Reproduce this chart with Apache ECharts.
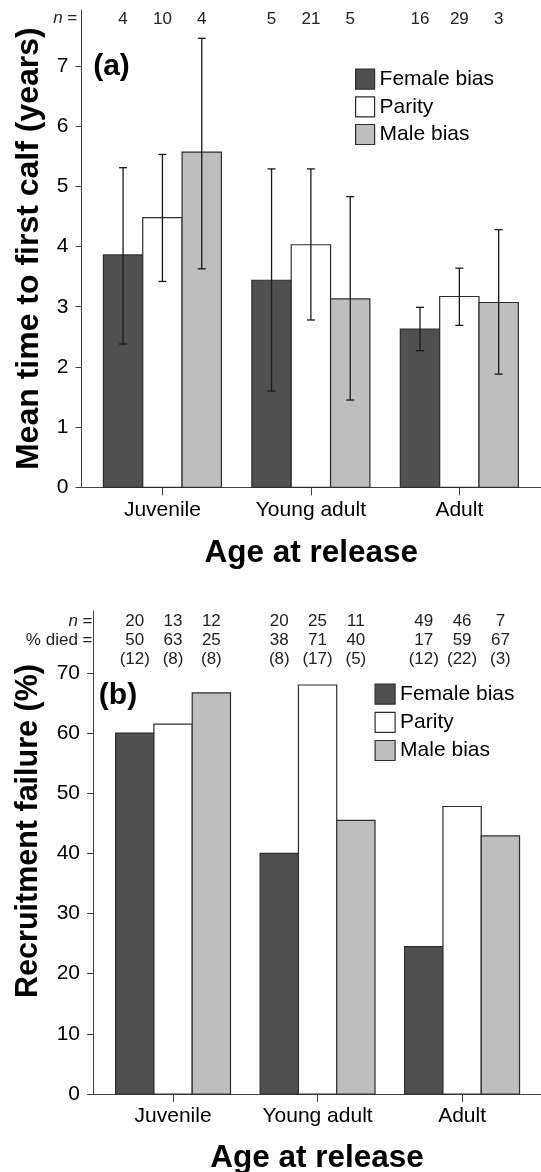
<!DOCTYPE html>
<html><head><meta charset="utf-8">
<script src="https://cdn.jsdelivr.net/npm/echarts@6/dist/echarts.min.js"></script>
<style>html,body{margin:0;padding:0;background:#fff}#c{width:541px;height:1172px}</style>
</head><body><div id="c"></div>
<script>
// ---------- data ----------
const categories = ['Juvenile', 'Young adult', 'Adult'];
const groups = ['Female bias', 'Parity', 'Male bias'];
// panel (a): mean time to first calf (years) with error bars
const meanFemale = [3.86, 3.44, 2.63];
const meanParity = [4.48, 4.03, 3.17];
const meanMale   = [5.57, 3.13, 3.07];
const lowFemale  = [2.38, 1.60, 2.27];
const lowParity  = [3.42, 2.78, 2.69];
const lowMale    = [3.63, 1.45, 1.88];
const highFemale = [5.31, 5.29, 2.99];
const highParity = [5.53, 5.29, 3.64];
const highMale   = [7.46, 4.83, 4.28];
const nTimeFemale = [4, 5, 16];
const nTimeParity = [10, 21, 29];
const nTimeMale   = [4, 5, 3];
// panel (b): recruitment failure (%)
const failFemale = [60.0, 40.0, 24.5];
const failParity = [61.5, 68.0, 47.8];
const failMale   = [66.7, 45.5, 42.9];
const nFemale = [20, 20, 49];
const nParity = [13, 25, 46];
const nMale   = [12, 11, 7];
const diedPctFemale = [50, 38, 17];
const diedPctParity = [63, 71, 59];
const diedPctMale   = [25, 40, 67];
const diedNFemale = [12, 8, 12];
const diedNParity = [8, 17, 22];
const diedNMale   = [8, 5, 3];
const yTicksA = [0, 1, 2, 3, 4, 5, 6, 7];
const yTicksB = [0, 10, 20, 30, 40, 50, 60, 70];
const catTicks = [0, 1, 2];

// ---------- style ----------
const FONT = '"Liberation Sans", Arial, Helvetica, sans-serif';
const COLORS = ['#505050', '#ffffff', '#bebebe'];
const BORDER = '#2e2e2e';
const AXIS = '#444';
const BW = 0.265;
const OFFS = [-BW, 0, BW];
const ROW_A = 7.78;
const ROWS_B = [78.53, 75.37, 72.28];

function txt(s, p) {
  return {type: 'text', style: {text: s, x: p[0], y: p[1], align: 'center', verticalAlign: 'middle',
    font: '17px ' + FONT, fill: '#222'}};
}
function rectFor(api, c, v, k) {
  const p0 = api.coord([c - BW / 2, 0]), p1 = api.coord([c + BW / 2, v]);
  return {type: 'rect', shape: {x: p0[0], y: p1[1], width: p1[0] - p0[0], height: p0[1] - p1[1]},
    style: {fill: COLORS[k], stroke: BORDER, lineWidth: 1.2}};
}
function renderA(k) {
  return function (params, api) {
    const c = api.value(0) + OFFS[k];
    const lo = api.coord([c, api.value(2)]), hi = api.coord([c, api.value(3)]);
    const es = {stroke: '#1a1a1a', lineWidth: 1.3};
    return {type: 'group', children: [
      rectFor(api, c, api.value(1), k),
      {type: 'line', shape: {x1: lo[0], y1: lo[1], x2: hi[0], y2: hi[1]}, style: es},
      {type: 'line', shape: {x1: hi[0] - 4, y1: hi[1], x2: hi[0] + 4, y2: hi[1]}, style: es},
      {type: 'line', shape: {x1: lo[0] - 4, y1: lo[1], x2: lo[0] + 4, y2: lo[1]}, style: es},
      txt(String(api.value(4)), api.coord([c, ROW_A]))
    ]};
  };
}
function renderB(k) {
  return function (params, api) {
    const c = api.value(0) + OFFS[k];
    return {type: 'group', children: [
      rectFor(api, c, api.value(1), k),
      txt(String(api.value(2)), api.coord([c, ROWS_B[0]])),
      txt(String(api.value(3)), api.coord([c, ROWS_B[1]])),
      txt('(' + api.value(4) + ')', api.coord([c, ROWS_B[2]]))
    ]};
  };
}
const seriesA = [
  [meanFemale, lowFemale, highFemale, nTimeFemale],
  [meanParity, lowParity, highParity, nTimeParity],
  [meanMale, lowMale, highMale, nTimeMale]
].map((arr, k) => ({
  type: 'custom', name: groups[k], xAxisIndex: 0, yAxisIndex: 0,
  itemStyle: {color: COLORS[k], borderColor: BORDER, borderWidth: 1.2},
  encode: {x: 0, y: 1},
  renderItem: renderA(k),
  data: categories.map((_, i) => [i, arr[0][i], arr[1][i], arr[2][i], arr[3][i]])
}));
const seriesB = [
  [failFemale, nFemale, diedPctFemale, diedNFemale],
  [failParity, nParity, diedPctParity, diedNParity],
  [failMale, nMale, diedPctMale, diedNMale]
].map((arr, k) => ({
  type: 'custom', name: groups[k], xAxisIndex: 1, yAxisIndex: 1,
  itemStyle: {color: COLORS[k], borderColor: BORDER, borderWidth: 1.2},
  encode: {x: 0, y: 1},
  renderItem: renderB(k),
  data: categories.map((_, i) => [i, arr[0][i], arr[1][i], arr[2][i], arr[3][i]])
}));

function xAx(idx, min, max, gap) {
  return {
    gridIndex: idx, type: 'value', min: min, max: max,
    axisLine: {show: true, onZero: false, lineStyle: {color: AXIS, width: 1}},
    axisTick: {show: true, length: 8, customValues: catTicks, lineStyle: {color: AXIS}},
    axisLabel: {customValues: catTicks, formatter: v => categories[Math.round(v)],
      fontSize: 21, color: '#000', margin: 12, fontFamily: FONT},
    splitLine: {show: false},
    name: 'Age at release', nameLocation: 'middle', nameGap: gap,
    nameTextStyle: {fontSize: 31.5, fontWeight: 'bold', color: '#000', fontFamily: FONT}
  };
}
function yAx(idx, max, ticks, name, gap, pad, fs) {
  return {
    gridIndex: idx, type: 'value', min: 0, max: max,
    axisLine: {show: true, onZero: false, lineStyle: {color: AXIS, width: 1}},
    axisTick: {show: true, length: 6, customValues: ticks, lineStyle: {color: AXIS}},
    axisLabel: {customValues: ticks, fontSize: 21, color: '#000', margin: 13, fontFamily: FONT},
    splitLine: {show: false},
    name: name, nameLocation: 'middle', nameGap: gap,
    nameTextStyle: {fontSize: fs, fontWeight: 'bold', color: '#000', fontFamily: FONT, padding: pad}
  };
}
function legendAt(left, top, iw, gap) {
  return {
    orient: 'vertical', left: left, top: top, padding: 0, itemWidth: iw, itemHeight: 20, itemGap: gap,
    icon: 'rect', selectedMode: false,
    textStyle: {fontSize: 21, color: '#000', fontFamily: FONT},
    data: groups.map((g, k) => ({name: g, itemStyle: {color: COLORS[k], borderColor: BORDER, borderWidth: 1.2}}))
  };
}
const labelStyle = {font: '17px ' + FONT, fill: '#222', align: 'right', verticalAlign: 'middle',
  rich: {i: {fontStyle: 'italic', fontSize: 17, fontFamily: FONT, fill: '#222'}}};

const option = {
  backgroundColor: '#fff',
  animation: false,
  grid: [
    {left: 81.5, right: 0, top: 10, height: 477.3, outerBoundsMode: 'none'},
    {left: 93, right: 0, top: 611, height: 483, outerBoundsMode: 'none'}
  ],
  xAxis: [xAx(0, -0.545, 2.55, 50), xAx(1, -0.554, 2.546, 48)],
  yAxis: [
    yAx(0, 7.93, yTicksA, 'Mean time to first calf (years)', 36.5, [0, 0, 0, 0], 32),
    yAx(1, 80.3, yTicksB, 'Recruitment failure (%)', 49, [0, 0, 0, 43], 30.5)
  ],
  legend: [legendAt(355, 68.5, 19, 6.5), legendAt(374.5, 683.5, 20, 7)],
  graphic: [
    {type: 'text', x: 111.5, y: 66.7, style: {text: '(a)', font: 'bold 30px ' + FONT, fill: '#000', align: 'center', verticalAlign: 'middle'}},
    {type: 'text', x: 118, y: 695.5, style: {text: '(b)', font: 'bold 30px ' + FONT, fill: '#000', align: 'center', verticalAlign: 'middle'}},
    {type: 'text', x: 77.3, y: 18.5, style: Object.assign({text: '{i|n} ='}, labelStyle)},
    {type: 'text', x: 92.5, y: 621.7, style: Object.assign({text: '{i|n} ='}, labelStyle)},
    {type: 'text', x: 92.5, y: 640.7, style: Object.assign({text: '% died ='}, labelStyle)}
  ],
  series: seriesA.concat(seriesB)
};
const chart = echarts.init(document.getElementById('c'), null, {renderer: 'canvas'});
chart.setOption(option);
</script></body></html>
